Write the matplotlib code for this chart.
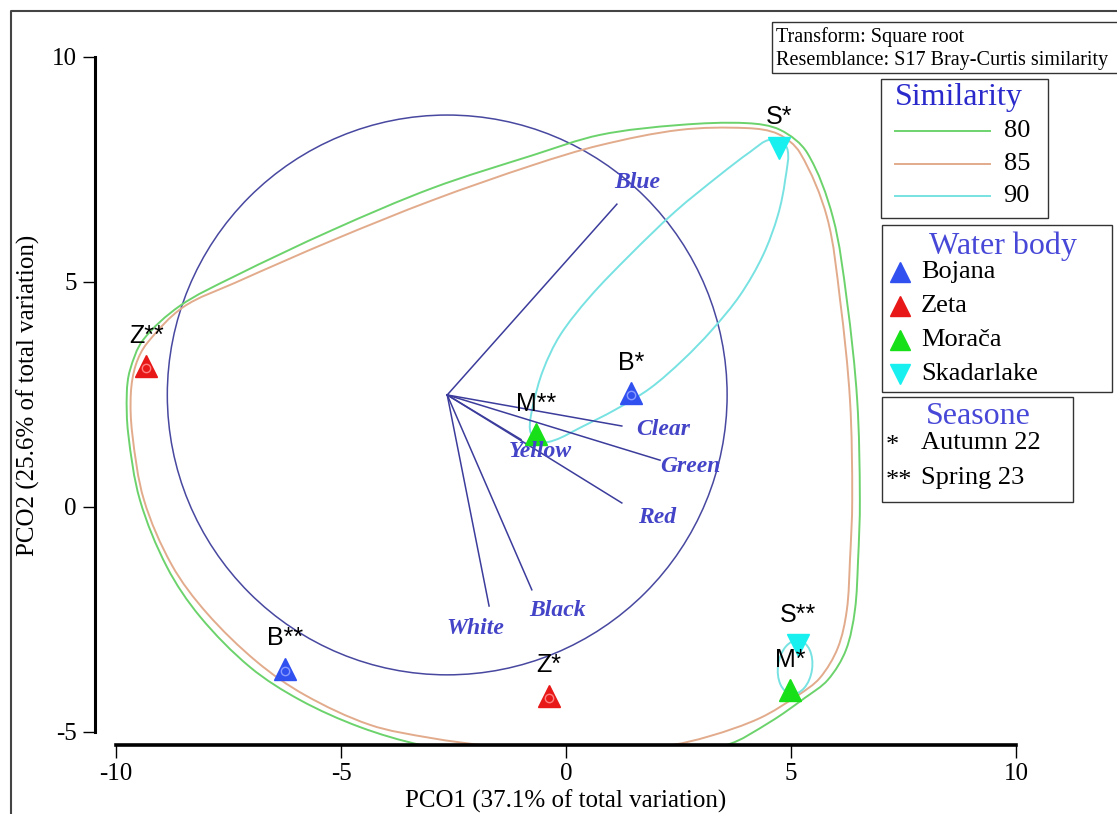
import matplotlib
matplotlib.use('Agg')
import matplotlib.pyplot as plt
import numpy as np
from matplotlib.path import Path
from matplotlib.patches import PathPatch, Circle, Ellipse, Rectangle

plt.rcParams['font.family'] = 'Liberation Serif'
plt.rcParams['axes.unicode_minus'] = False

# Campioni (PCO scores)
sample_labels = ['S*', 'Z**', 'B*', 'M**', 'B**', 'Z*', 'S**', 'M*']
sample_body = ['Skadarlake', 'Zeta', 'Bojana', 'Morača', 'Bojana', 'Zeta', 'Skadarlake', 'Morača']
pco1 = [4.73, -9.33, 1.44, -0.67, -6.24, -0.38, 5.16, 4.98]
pco2 = [7.98, 3.13, 2.53, 1.62, -3.60, -4.20, -3.07, -4.07]

# Vettori (correlazioni colori)
vec_origin = (-2.64, 2.49)
circle_radius = 6.22
vec_names = ['Blue', 'Clear', 'Green', 'Yellow', 'Red', 'Black', 'White']
vec_x = [1.13, 1.24, 2.09, -1.00, 1.24, -0.76, -1.71]
vec_y = [6.73, 1.80, 1.04, 1.50, 0.09, -1.84, -2.20]
vec_lab_x = [1.58, 2.16, 2.76, -0.58, 2.02, -0.18, -2.02]
vec_lab_y = [7.20, 1.73, 0.91, 1.24, -0.24, -2.29, -2.69]

# Contorni di similarita
sim80_x = [-9.76, -9.69, -9.40, -8.58, -7.40, -5.18, -2.96, -0.73, 0.76, 2.53, 4.02, 4.76, 5.36,
           5.93, 6.24, 6.47, 6.53, 6.49, 6.42, 6.22, 5.82, 5.31, 4.53, 3.56, 1.87, 0.09, -1.69,
           -3.22, -4.58, -5.91, -7.02, -8.13, -8.87, -9.47, -9.73]
sim80_y = [2.53, 3.04, 3.71, 4.47, 5.11, 6.16, 7.09, 7.82, 8.27, 8.49, 8.53, 8.38, 7.87,
           6.44, 4.60, 2.38, 0.16, -1.18, -2.29, -3.18, -3.84, -4.24, -4.78, -5.29, -5.53, -5.60, -5.53,
           -5.29, -4.89, -4.29, -3.56, -2.44, -1.33, 0.16, 1.64]
sim85_x = [-9.67, -9.56, -9.31, -8.51, -7.36, -5.18, -2.96, -0.73, 0.76, 2.53, 4.02, 4.71, 5.20,
           5.80, 6.09, 6.31, 6.36, 6.31, 6.24, 6.04, 5.64, 5.16, 4.31, 3.20, 2.20, 0.20, -1.67,
           -3.02, -4.36, -5.80, -6.87, -7.98, -8.76, -9.38, -9.64]
sim85_y = [2.53, 3.16, 3.64, 4.44, 4.98, 5.93, 6.82, 7.60, 8.04, 8.38, 8.42, 8.29, 7.87,
           6.44, 4.60, 2.38, 0.16, -1.18, -2.29, -3.13, -3.80, -4.18, -4.69, -5.09, -5.31, -5.42, -5.31,
           -5.13, -4.84, -4.18, -3.44, -2.36, -1.29, 0.16, 1.64]
sim90_x = [4.53, 4.91, 4.87, 4.71, 4.38, 3.87, 3.24, 2.60, 1.87, 1.09, 0.31, -0.24, -0.62, -0.80,
           -0.73, -0.51, -0.13, 0.53, 1.42, 2.42, 3.42, 4.09]
sim90_y = [8.16, 7.98, 7.27, 6.49, 5.60, 4.71, 3.93, 3.27, 2.64, 2.16, 1.76, 1.49, 1.44, 1.71,
           2.27, 3.04, 3.82, 4.67, 5.60, 6.56, 7.38, 7.89]
sim90b_center = (5.09, -3.56)
sim90b_size = (0.76, 1.20)

sim_levels = ['80', '85', '90']
sim_colors = ['#6cd36c', '#e2ab8c', '#78e2e2']

bodies = ['Bojana', 'Zeta', 'Morača', 'Skadarlake']
body_style = {
    'Bojana': {'color': '#3050f0', 'marker': '^', 'inner': '#8a9cff'},
    'Zeta': {'color': '#e81818', 'marker': '^', 'inner': '#ff8080'},
    'Morača': {'color': '#18e018', 'marker': '^', 'inner': None},
    'Skadarlake': {'color': '#18f0f0', 'marker': 'v', 'inner': None},
}
seasons = [('*', 'Autumn 22'), ('**', 'Spring 23')]


def smooth_closed(xs, ys):
    # Catmull-Rom non uniforme -> bezier cubiche
    pts = np.column_stack([xs, ys])
    n = len(pts)
    d = np.linalg.norm(np.roll(pts, -1, axis=0) - pts, axis=1)
    tang = [(pts[(i + 1) % n] - pts[i - 1]) / (d[i - 1] + d[i]) for i in range(n)]
    verts = [pts[0]]
    codes = [Path.MOVETO]
    for i in range(n):
        j = (i + 1) % n
        verts += [pts[i] + tang[i] * d[i] / 3, pts[j] - tang[j] * d[i] / 3, pts[j]]
        codes += [Path.CURVE4] * 3
    return Path(verts, codes)


W, H = 1117, 814
fig = plt.figure(figsize=(W / 100, H / 100), dpi=100)
# area assi in pixel: x 95..1117, y 12..745
ax = fig.add_axes([95 / W, (H - 745) / H, 1022 / W, 733 / H])
ax.set_xlim(-10.467, 12.244)
ax.set_ylim(-5.289, 11.0)
ax.patch.set_alpha(0)

# cerchio e vettori
ax.add_patch(Circle(vec_origin, circle_radius, fill=False, ec='#4848a0', lw=1.1))
for name, x, y, lx, ly in zip(vec_names, vec_x, vec_y, vec_lab_x, vec_lab_y):
    ax.plot([vec_origin[0], x], [vec_origin[1], y], color='#3c3c9c', lw=1.1)
    ax.text(lx, ly, name, ha='center', va='center', fontsize=17, style='italic',
            weight='bold', color='#4444c8')

# contorni
for xs, ys, c in [(sim80_x, sim80_y, sim_colors[0]), (sim85_x, sim85_y, sim_colors[1]),
                  (sim90_x, sim90_y, sim_colors[2])]:
    ax.add_patch(PathPatch(smooth_closed(xs, ys), fill=False, ec=c, lw=1.4))
ax.add_patch(Ellipse(sim90b_center, sim90b_size[0], sim90b_size[1], angle=-8,
                     fill=False, ec=sim_colors[2], lw=1.4))

# punti
for lab, body, x, y in zip(sample_labels, sample_body, pco1, pco2):
    st = body_style[body]
    ax.plot(x, y, marker=st['marker'], color=st['color'], markersize=16, ls='none')
    if st['inner']:
        ax.plot(x, y - 0.05, marker='o', mfc='none', mec=st['inner'], markersize=6, ls='none')
    ax.annotate(lab, (x, y), xytext=(0, 22), textcoords='offset points', ha='center',
                va='center', fontsize=18, family='Liberation Sans')

ax.spines['top'].set_visible(False)
ax.spines['right'].set_visible(False)
ax.spines['left'].set_bounds(-5, 10)
ax.spines['bottom'].set_bounds(-10, 10)
ax.spines['left'].set_linewidth(2.2)
ax.spines['bottom'].set_linewidth(2.6)
ax.set_xticks([-10, -5, 0, 5, 10])
ax.set_yticks([-5, 0, 5, 10])
ax.tick_params(axis='both', direction='out', length=9, width=1, labelsize=18, pad=4)
ax.set_xlabel('PCO1 (37.1% of total variation)', fontsize=18)
ax.xaxis.set_label_coords((566 - 95) / 1022, (745 - 790) / 733)
ax.set_ylabel('PCO2 (25.6% of total variation)', fontsize=18, va='center')
ax.yaxis.set_label_coords((28 - 95) / 1022, (745 - 395) / 733)

# legende in coordinate pixel
ov = fig.add_axes([0, 0, 1, 1])
ov.set_xlim(0, W)
ov.set_ylim(H, 0)
ov.axis('off')
ov.patch.set_alpha(0)

ov.plot([11, 11, W], [H, 11, 11], color='#444444', lw=1.5)

ov.add_patch(Rectangle((772, 22), 360, 51, fill=False, ec='#333333', lw=1))
ov.text(776, 37, 'Transform: Square root', fontsize=14.5, va='center')
ov.text(776, 61, 'Resemblance: S17 Bray-Curtis similarity', fontsize=14.5, va='center')

ov.add_patch(Rectangle((881, 79), 167, 139, fill=False, ec='#333333', lw=1))
ov.text(959, 98, 'Similarity', fontsize=23, color='#2a2acc', ha='center', va='center')
for i, (lev, c) in enumerate(zip(sim_levels, sim_colors)):
    yy = 131 + i * 32.5
    ov.plot([895, 990], [yy, yy], color=c, lw=1.4)
    ov.text(1030, yy, lev, fontsize=19, ha='right', va='center')

ov.add_patch(Rectangle((882, 225), 230, 167, fill=False, ec='#333333', lw=1))
ov.text(1003, 246, 'Water body', fontsize=23, color='#4848d8', ha='center', va='center')
for i, b in enumerate(bodies):
    yy = 272 + i * 34
    st = body_style[b]
    ov.plot(900, yy, marker=st['marker'], color=st['color'], markersize=15, ls='none')
    ov.text(921, yy, b, fontsize=19, va='center')

ov.add_patch(Rectangle((882, 397), 191, 105, fill=False, ec='#333333', lw=1))
ov.text(978, 416, 'Seasone', fontsize=23, color='#4848d8', ha='center', va='center')
for i, (sym, lab) in enumerate(seasons):
    yy = 443 + i * 35
    ov.text(886, yy + 3, sym, fontsize=19, va='center')
    ov.text(921, yy, lab, fontsize=19, va='center')

fig.savefig('out.png', dpi=100)
